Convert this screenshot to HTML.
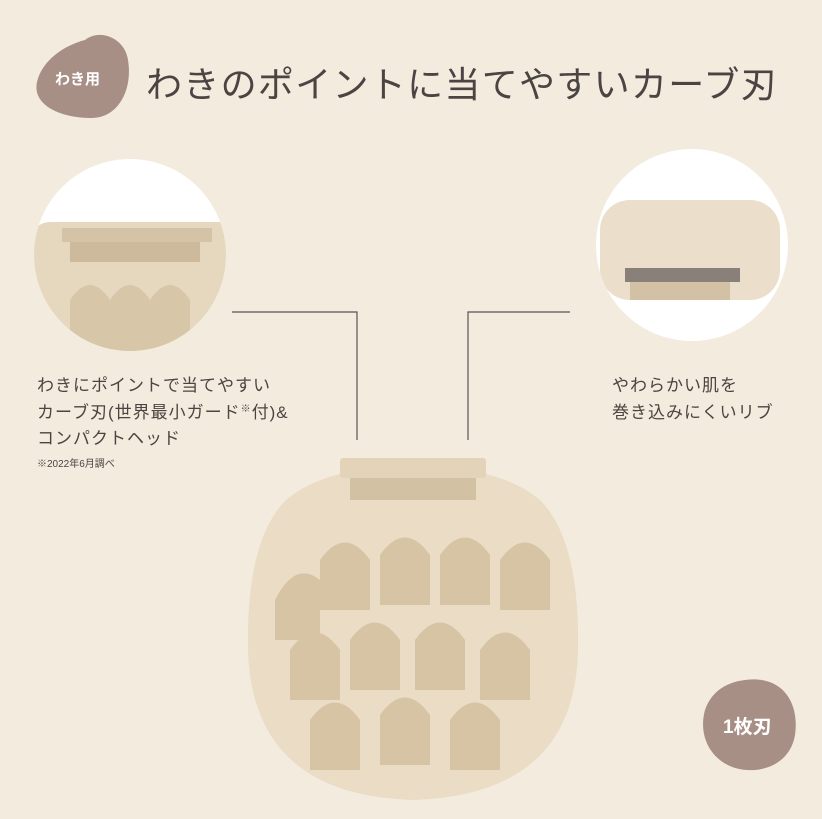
<!DOCTYPE html>
<html><head><meta charset="utf-8"><style>
body{margin:0;width:822px;height:819px;background:#f4ebdf;position:relative;overflow:hidden;font-family:"Liberation Sans","Noto Sans CJK JP",sans-serif;color:#4a4540}
.t{position:absolute;white-space:nowrap}
sup{font-size:10px;line-height:0;vertical-align:6px}
</style></head><body>
<svg width="822" height="819" style="position:absolute;left:0;top:0">
<path d="M85 40 C100 28,125 38,128 60 C133 90,118 118,92 118 C60 118,32 105,37 82 C42 60,65 45,85 40Z" fill="#a88f85"/>
<circle cx="130" cy="255" r="96" fill="#fff"/>
<circle cx="692" cy="245" r="96" fill="#fff"/>
<clipPath id="c1"><circle cx="130" cy="255" r="96"/></clipPath>
<clipPath id="c2"><circle cx="692" cy="245" r="96"/></clipPath>
<g clip-path="url(#c1)">
<rect x="30" y="222" width="210" height="140" rx="20" fill="#e6d7bf"/>
<rect x="62" y="228" width="150" height="14" fill="#d4c3a6"/>
<rect x="70" y="242" width="130" height="20" fill="#cdb99b"/>
<path d="M70 300 q20-30 40 0 q20-30 40 0 q20-30 40 0 v60 h-120z" fill="#d8c6a8"/>
</g>
<g clip-path="url(#c2)">
<rect x="600" y="200" width="180" height="100" rx="30" fill="#ebdfcc"/>
<rect x="625" y="268" width="115" height="14" fill="#888079"/>
<rect x="630" y="282" width="100" height="18" fill="#d2c1a4"/>
</g>
<polyline points="232,312 357,312 357,440" fill="none" stroke="#555" stroke-width="1.2"/>
<polyline points="570,312 468,312 468,440" fill="none" stroke="#555" stroke-width="1.2"/>
<path d="M413 466 Q500 466 540 500 Q580 540 578 650 Q575 795 413 800 Q252 795 248 650 Q246 540 286 500 Q326 466 413 466Z" fill="#eadcc5"/>
<rect x="340" y="458" width="146" height="20" rx="3" fill="#e2d3b9"/>
<rect x="350" y="478" width="126" height="22" fill="#d2c1a2"/>
<g fill="#d6c4a5">
<path d="M275 600 q20-40 45 -20 v60 h-45z"/>
<path d="M320 560 q25-35 50 0 v50 h-50z"/><path d="M380 555 q25-35 50 0 v50 h-50z"/><path d="M440 555 q25-35 50 0 v50 h-50z"/><path d="M500 560 q25-35 50 0 v50 h-50z"/>
<path d="M290 650 q25-35 50 0 v50 h-50z"/><path d="M350 640 q25-35 50 0 v50 h-50z"/><path d="M415 640 q25-35 50 0 v50 h-50z"/><path d="M480 650 q25-35 50 0 v50 h-50z"/>
<path d="M310 720 q25-35 50 0 v50 h-50z"/><path d="M380 715 q25-35 50 0 v50 h-50z"/><path d="M450 720 q25-35 50 0 v50 h-50z"/>
</g>
<path d="M745 680 C780 675,800 700,795 735 C790 765,760 775,735 768 C710 760,698 735,705 710 C712 690,728 682,745 680Z" fill="#a88f85"/>
</svg>
<div class="t" style="left:55px;top:68px;font-size:15px;color:#fff;font-weight:bold">わき用</div>
<div class="t" style="left:146px;top:56px;font-size:36px;letter-spacing:1.3px;color:#4a4542">わきのポイントに当てやすいカーブ刃</div>
<div class="t" style="left:37px;top:373px;font-size:17px;line-height:26.5px;letter-spacing:1px">わきにポイントで当てやすい<br>カーブ刃(世界最小ガード<sup>※</sup>付)&amp;<br>コンパクトヘッド</div>
<div class="t" style="left:37px;top:455px;font-size:10px">※2022年6月調べ</div>
<div class="t" style="left:612px;top:373px;font-size:17px;line-height:26.5px;letter-spacing:1px">やわらかい肌を<br>巻き込みにくいリブ</div>
<div class="t" style="left:723px;top:712px;font-size:19px;color:#fff;font-weight:bold">1枚刃</div>
</body></html>
